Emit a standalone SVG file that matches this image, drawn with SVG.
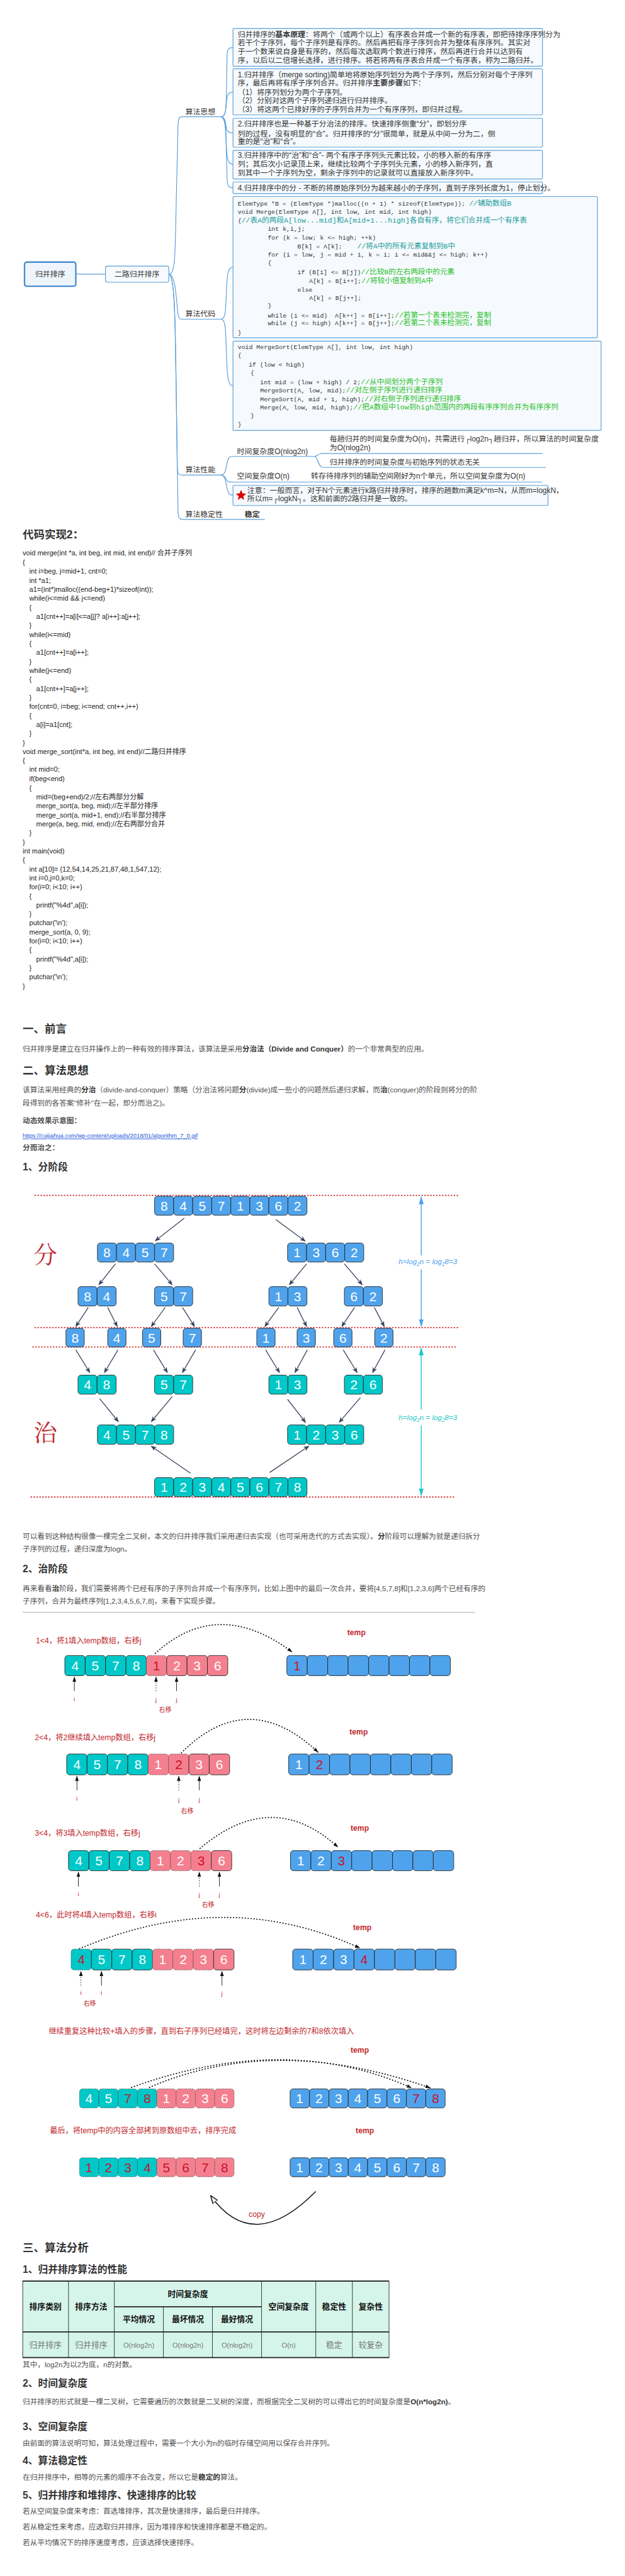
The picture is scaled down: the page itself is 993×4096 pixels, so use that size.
<svg xmlns="http://www.w3.org/2000/svg" width="993" height="4096" viewBox="0 0 993 4096">
<style>
.mm{font-family:"Liberation Sans","Noto Sans CJK SC",sans-serif;font-size:20.5px;fill:#333}
.cd{font-family:"Liberation Mono","Noto Sans CJK SC",monospace;font-size:17px;fill:#333;white-space:pre}
.c1{fill:#1a9a9a;font-size:20px}
.c2{fill:#1fbf1f;font-size:20px}
.box{fill:#f6fafe;stroke:#5b9fd8;stroke-width:2}
.ln{fill:none;stroke:#5b9fd8;stroke-width:2}
.src{font-family:"Liberation Sans","Noto Sans CJK SC",sans-serif;font-size:19px;fill:#222}
.bd{font-family:"Liberation Sans","Noto Sans CJK SC",sans-serif;font-size:20px;fill:#4f4f4f}
.h2{font-family:"Liberation Sans","Noto Sans CJK SC",sans-serif;font-size:30px;font-weight:bold;fill:#333}
.h3{font-family:"Liberation Sans","Noto Sans CJK SC",sans-serif;font-size:27px;font-weight:bold;fill:#333}
.b{font-weight:bold}
.bl{fill:#4fa3ec;stroke:#222;stroke-width:1.5}
.tl{fill:#00c8c8;stroke:#222;stroke-width:1.5}
.pk{fill:#f4808f;stroke:#222;stroke-width:1.5}
.dt{stroke-dasharray:2 3}
.dg{font-family:"Liberation Sans",sans-serif;font-size:36px;fill:#fff;text-anchor:middle}
.rd{fill:#c8142c}
.tr{stroke:#34405a;stroke-width:2.2;fill:none}
.rl{stroke:#d43a3a;stroke-width:3.5;stroke-dasharray:1 7;stroke-linecap:round}
.arc{fill:none;stroke:#111;stroke-width:3;stroke-dasharray:1 7;stroke-linecap:round}
.ptr{stroke:#111;stroke-width:1.5}
.lab{font-family:"Liberation Sans","Noto Sans CJK SC",sans-serif;font-size:21px;fill:#c0282d}
.sm{font-family:"Liberation Sans","Noto Sans CJK SC",sans-serif;font-size:17px;fill:#c0282d;text-anchor:middle}
.tmp{font-family:"Liberation Sans",sans-serif;font-size:21px;font-weight:bold;fill:#c0282d}
.tb{fill:#d5f5ea;stroke:#222;stroke-width:1.5}
.th{font-family:"Liberation Sans","Noto Sans CJK SC",sans-serif;font-size:22px;font-weight:bold;fill:#111;text-anchor:middle}
.td{font-family:"Liberation Sans","Noto Sans CJK SC",sans-serif;font-size:22px;fill:#777;text-anchor:middle}
</style>
<defs>
<marker id="ah" viewBox="0 0 10 10" refX="9" refY="5" markerWidth="16" markerHeight="16" markerUnits="userSpaceOnUse" orient="auto"><path d="M0,1 L10,5 L0,9 L3,5 z" fill="#34405a"/></marker>
<marker id="ak" viewBox="0 0 10 10" refX="9" refY="5" markerWidth="14" markerHeight="14" markerUnits="userSpaceOnUse" orient="auto"><path d="M0,1.5 L10,5 L0,8.5 z" fill="#111"/></marker>
<marker id="ab" viewBox="0 0 10 10" refX="9" refY="5" markerWidth="22" markerHeight="22" markerUnits="userSpaceOnUse" orient="auto"><path d="M0,2 L10,5 L0,8 z" fill="#4fa3ec"/></marker>
<marker id="at" viewBox="0 0 10 10" refX="9" refY="5" markerWidth="22" markerHeight="22" markerUnits="userSpaceOnUse" orient="auto"><path d="M0,2 L10,5 L0,8 z" fill="#1ec8c8"/></marker>
<marker id="ao" viewBox="0 0 10 10" refX="9" refY="5" markerWidth="22" markerHeight="22" markerUnits="userSpaceOnUse" orient="auto"><path d="M0,1.5 L10,5 L0,8.5 z" fill="#fff" stroke="#111" stroke-width="1.2"/></marker>
</defs>
<rect width="993" height="4096" fill="#fff"/>
<g transform="scale(0.582)">

<g id="connectors">
<path class="ln" d="M207,749 H288"/>
<path class="ln" d="M461,749 C478,749 478,700 480,600 L486,340 C487,325 489,319 496,319 H603"/>
<path class="ln" d="M461,749 C478,752 480,800 484,840 C486,866 488,872 496,872 H603"/>
<path class="ln" d="M461,749 C478,752 478,900 480,1000 L484,1280 C485,1294 488,1298 496,1298 H603"/>
<path class="ln" d="M461,749 C478,752 478,900 480,1000 L486,1400 C487,1415 490,1419 498,1419 H723"/>
<path class="ln" d="M603,319 C618,319 617,300 618,250 L620,150 C621,133 624,130 636,130"/>
<path class="ln" d="M603,319 C616,319 616,300 618,280 C620,256 624,252 636,252"/>
<path class="ln" d="M603,319 C616,319 616,340 618,350 C620,360 624,363 636,363"/>
<path class="ln" d="M603,319 C616,319 616,360 618,400 C620,440 624,449 636,449"/>
<path class="ln" d="M603,319 C618,319 617,360 618,420 L620,490 C621,508 624,513 636,513"/>
<path class="ln" d="M603,872 C616,872 616,850 618,800 C620,740 624,730 636,730"/>
<path class="ln" d="M603,872 C616,872 616,900 618,960 C620,1040 624,1054 636,1054"/>
<path class="ln" d="M603,1298 C616,1298 616,1280 620,1265 C624,1250 626,1247 634,1247 H859"/>
<path class="ln" d="M859,1247 C868,1247 866,1239 880,1239 H1480"/>
<path class="ln" d="M859,1247 C868,1247 868,1277 882,1277 H1490"/>
<path class="ln" d="M603,1298 C616,1298 616,1310 620,1314 C623,1317 626,1317 634,1317 H1480"/>
<path class="ln" d="M603,1298 C616,1298 616,1320 620,1335 C624,1350 626,1353 636,1353"/>
</g>

<g id="root"><rect x="67" y="716" width="140" height="66" rx="6" fill="#eef5fc" stroke="#4a8cd0" stroke-width="4"/><text class="mm" x="137" y="756" text-anchor="middle">归并排序</text></g>
<g id="n-erlu"><rect class="box" x="288" y="727" width="173" height="44" rx="5"/><text class="mm" x="374" y="756" text-anchor="middle">二路归并排序</text></g>
<g id="n-sixiang"><text class="mm" x="506" y="312">算法思想</text></g>
<g id="n-daima"><text class="mm" x="506" y="865">算法代码</text></g>
<g id="n-xingneng"><text class="mm" x="506" y="1291">算法性能</text></g>
<g id="n-wending"><text class="mm" x="506" y="1412">算法稳定性</text><text class="mm b" x="668" y="1412" fill="#e00">稳定</text></g>

<g id="t-box1"><rect class="box" x="636" y="78" width="845" height="103" rx="3"/>
<text class="mm" x="649" y="101">归并排序的<tspan class="b">基本原理</tspan>：将两个（或两个以上）有序表合并成一个新的有序表，即把待排序序列分为</text>
<text class="mm" x="649" y="124">若干个子序列，每个子序列是有序的。然后再把有序子序列合并为整体有序序列。其实对</text>
<text class="mm" x="649" y="148">于一个数来说自身是有序的，然后每次选取两个数进行排序，然后再进行合并以达到有</text>
<text class="mm" x="649" y="172">序，以后以二倍增长选择，进行排序。将若将两有序表合并成一个有序表，称为二路归并。</text></g>
<g id="t-box2"><rect class="box" x="636" y="188" width="845" height="126" rx="3"/>
<text class="mm" x="649" y="211">1.归并排序（merge sorting)简单地将原始序列划分为两个子序列，然后分别对每个子序列</text>
<text class="mm" x="649" y="234">序，最后再将有序子序列合并。归并排序<tspan class="b">主要步骤</tspan>如下：</text>
<text class="mm" x="649" y="259">（1）将序列划分为两个子序列。</text>
<text class="mm" x="649" y="282">（2）分别对这两个子序列递归进行归并排序。</text>
<text class="mm" x="649" y="305">（3）将这两个已排好序的子序列合并为一个有序序列，即归并过程。</text></g>
<g id="t-box3"><rect class="box" x="636" y="323" width="845" height="79" rx="3"/>
<text class="mm" x="649" y="346">2.归并排序也是一种基于分治法的排序。快速排序侧重“分”，即划分序</text>
<text class="mm" x="649" y="372">列的过程，没有明显的“合”。归并排序的“分”很简单，就是从中间一分为二，侧</text>
<text class="mm" x="649" y="394">重的是“治”和“合”。</text></g>
<g id="t-box4"><rect class="box" x="636" y="411" width="845" height="78" rx="3"/>
<text class="mm" x="649" y="432">3.归并排序中的“治”和“合”- 两个有序子序列头元素比较，小的移入新的有序序</text>
<text class="mm" x="649" y="455">列；其后次小记录顶上来，继续比较两个子序列头元素，小的移入新序列，直</text>
<text class="mm" x="649" y="479">到其中一个子序列为空，剩余子序列中的记录就可以直接放入新序列中。</text></g>
<g id="t-box5"><rect class="box" x="636" y="497" width="845" height="32" rx="3"/>
<text class="mm" x="649" y="520">4.归并排序中的分 - 不断的将原始序列分为越来越小的子序列，直到子序列长度为1，停止划分。</text></g>

<g id="code1"><rect class="box" x="636" y="537" width="995" height="386" rx="3"/>
<text class="cd" x="649" y="561">ElemType *B = (ElemType *)malloc((n + 1) * sizeof(ElemType)); <tspan class="c1">//辅助数组B</tspan></text>
<text class="cd" x="649" y="584">void Merge(ElemType A[], int low, int mid, int high)</text>
<text class="cd" x="649" y="608">{<tspan class="c1">//表A的两段A[low...mid]和A[mid+1...high]各自有序，将它们合并成一个有序表</tspan></text>
<text class="cd" x="731" y="631">int k,i,j;</text>
<text class="cd" x="731" y="654">for (k = low; k &lt;= high; ++k)</text>
<text class="cd" x="812" y="678">B[k] = A[k];    <tspan class="c1">//将A中的所有元素复制到B中</tspan></text>
<text class="cd" x="731" y="701">for (i = low, j = mid + 1, k = i; i &lt;= mid&amp;&amp;j &lt;= high; k++)</text>
<text class="cd" x="731" y="724">{</text>
<text class="cd" x="812" y="749">if (B[i] &lt;= B[j])<tspan class="c2">//比较B的左右两段中的元素</tspan></text>
<text class="cd" x="844" y="773">A[k] = B[i++];<tspan class="c2">//将较小值复制到A中</tspan></text>
<text class="cd" x="812" y="798">else</text>
<text class="cd" x="844" y="819">A[k] = B[j++];</text>
<text class="cd" x="731" y="841">}</text>
<text class="cd" x="731" y="868">while (i &lt;= mid)  A[k++] = B[i++];<tspan class="c2">//若第一个表未检测完，复制</tspan></text>
<text class="cd" x="731" y="889">while (j &lt;= high) A[k++] = B[j++];<tspan class="c2">//若第二个表未检测完，复制</tspan></text>
<text class="cd" x="649" y="914">}</text></g>
<g id="code2"><rect class="box" x="636" y="932" width="1005" height="244" rx="3"/>
<text class="cd" x="649" y="954">void MergeSort(ElemType A[], int low, int high)</text>
<text class="cd" x="649" y="976">{</text>
<text class="cd" x="679" y="1001">if (low &lt; high)</text>
<text class="cd" x="684" y="1024">{</text>
<text class="cd" x="710" y="1049">int mid = (low + high) / 2;<tspan class="c2">//从中间划分两个子序列</tspan></text>
<text class="cd" x="710" y="1073">MergeSort(A, low, mid);<tspan class="c2">//对左侧子序列进行递归排序</tspan></text>
<text class="cd" x="710" y="1096">MergeSort(A, mid + 1, high);<tspan class="c2">//对右侧子序列进行递归排序</tspan></text>
<text class="cd" x="710" y="1119">Merge(A, low, mid, high);<tspan class="c2">//把A数组中low到high范围内的两段有序序列合并为有序序列</tspan></text>
<text class="cd" x="684" y="1141">}</text>
<text class="cd" x="649" y="1165">}</text></g>

<g id="n-time"><text class="mm" x="647" y="1240">时间复杂度O(nlog2n)</text>
<text class="mm" x="900" y="1206">每趟归并的时间复杂度为O(n)，共需进行┌log2n┐趟归并，所以算法的时间复杂度</text>
<text class="mm" x="900" y="1230">为O(nlog2n)</text>
<text class="mm" x="900" y="1269">归并排序的时间复杂度与初始序列的状态无关</text></g>
<g id="n-space"><text class="mm" x="647" y="1307">空间复杂度O(n)</text><text class="mm" x="849" y="1307">转存待排序列的辅助空间刚好为n个单元，所以空间复杂度为O(n)</text></g>
<g id="n-note"><rect class="box" x="636" y="1326" width="860" height="55" rx="3"/>
<path d="M658,1338 L662,1348 L672,1349 L664,1356 L667,1366 L658,1360 L649,1366 L652,1356 L644,1349 L654,1348 z" fill="#d00"/>
<text class="mm" x="675" y="1347" fill="#e00">注意：一般而言，对于N个元素进行k路归并排序时，排序的趟数m满足k^m=N，从而m=logkN，</text>
<text class="mm" x="675" y="1370" fill="#e00">所以m=┌logkN┐。这和前面的2路归并是一致的。</text></g>

<g id="code-impl">
<text class="h2" x="62" y="1471">代码实现2：</text>
<g class="src">
<text x="62" y="1518">void merge(int *a, int beg, int mid, int end)// 合并子序列</text>
<text x="62" y="1543">{</text>
<text x="80" y="1567">int i=beg, j=mid+1, cnt=0;</text>
<text x="80" y="1592">int *a1;</text>
<text x="80" y="1617">a1=(int*)malloc((end-beg+1)*sizeof(int));</text>
<text x="80" y="1641">while(i&lt;=mid &amp;&amp; j&lt;=end)</text>
<text x="80" y="1666">{</text>
<text x="99" y="1691">a1[cnt++]=a[i]&lt;=a[j]? a[i++]:a[j++];</text>
<text x="80" y="1715">}</text>
<text x="80" y="1740">while(i&lt;=mid)</text>
<text x="80" y="1764">{</text>
<text x="99" y="1789">a1[cnt++]=a[i++];</text>
<text x="80" y="1814">}</text>
<text x="80" y="1838">while(j&lt;=end)</text>
<text x="80" y="1863">{</text>
<text x="99" y="1888">a1[cnt++]=a[j++];</text>
<text x="80" y="1912">}</text>
<text x="80" y="1937">for(cnt=0, i=beg; i&lt;=end; cnt++,i++)</text>
<text x="80" y="1962">{</text>
<text x="99" y="1986">a[i]=a1[cnt];</text>
<text x="80" y="2011">}</text>
<text x="62" y="2036">}</text>
<text x="62" y="2060">void merge_sort(int*a, int beg, int end)//二路归并排序</text>
<text x="62" y="2085">{</text>
<text x="80" y="2109">int mid=0;</text>
<text x="80" y="2134">if(beg&lt;end)</text>
<text x="80" y="2159">{</text>
<text x="99" y="2183">mid=(beg+end)/2;//左右两部分分解</text>
<text x="99" y="2208">merge_sort(a, beg, mid);//左半部分排序</text>
<text x="99" y="2233">merge_sort(a, mid+1, end);//右半部分排序</text>
<text x="99" y="2257">merge(a, beg, mid, end);//左右两部分合并</text>
<text x="80" y="2282">}</text>
<text x="62" y="2307">}</text>
<text x="62" y="2331">int main(void)</text>
<text x="62" y="2356">{</text>
<text x="80" y="2381">int a[10]= {12,54,14,25,21,87,48,1,547,12};</text>
<text x="80" y="2405">int i=0,j=0,k=0;</text>
<text x="80" y="2430">for(i=0; i&lt;10; i++)</text>
<text x="80" y="2455">{</text>
<text x="99" y="2479">printf("%4d",a[i]);</text>
<text x="80" y="2504">}</text>
<text x="80" y="2528">putchar('\n');</text>
<text x="80" y="2553">merge_sort(a, 0, 9);</text>
<text x="80" y="2578">for(i=0; i&lt;10; i++)</text>
<text x="80" y="2602">{</text>
<text x="99" y="2627">printf("%4d",a[i]);</text>
<text x="80" y="2652">}</text>
<text x="80" y="2676">putchar('\n');</text>
<text x="62" y="2701">}</text>
</g></g>

<g id="article">
<text class="h2" x="62" y="2822">一、前言</text>
<text class="bd" x="62" y="2872">归并排序是建立在归并操作上的一种有效的排序算法，该算法是采用<tspan class="b" fill="#333">分治法（Divide and Conquer）</tspan>的一个非常典型的应用。</text>
<text class="h2" x="62" y="2935">二、算法思想</text>
<text class="bd" x="62" y="2985">该算法采用经典的<tspan class="b" fill="#333">分治</tspan>（divide-and-conquer）策略（分治法将问题<tspan class="b" fill="#333">分</tspan>(divide)成一些小的问题然后递归求解，而<tspan class="b" fill="#333">治</tspan>(conquer)的阶段则将分的阶</text>
<text class="bd" x="62" y="3021">段得到的各答案"修补"在一起，即分而治之)。</text>
<text class="bd b" x="62" y="3069" fill="#333" font-size="19">动态效果示意图：</text>
<text x="62" y="3109" font-family="Liberation Sans,sans-serif" font-size="16" fill="#1a55d8" text-decoration="underline">https://cuijiahua.com/wp-content/uploads/2018/01/algorithm_7_0.gif</text>
<text class="bd b" x="62" y="3142" fill="#333" font-size="19">分而治之：</text>
<text class="h3" x="62" y="3198">1、分阶段</text>
</g>

<g id="tree">
<line class="rl" x1="96" y1="3266" x2="1250" y2="3266"/>
<line class="rl" x1="96" y1="3627" x2="1250" y2="3627"/>
<line class="rl" x1="90" y1="3680" x2="1243" y2="3680"/>
<line class="rl" x1="85" y1="4090" x2="1240" y2="4090"/>
<text x="92" y="3452" font-family="Noto Serif CJK SC,Noto Sans CJK SC,serif" font-size="64" fill="#c0282d">分</text>
<text x="92" y="3938" font-family="Noto Serif CJK SC,Noto Sans CJK SC,serif" font-size="64" fill="#c0282d">治</text>
<g id="r1">
<rect class="bl" x="422" y="3268" width="52" height="52" rx="8"/><rect class="bl" x="474" y="3268" width="52" height="52" rx="8"/><rect class="bl" x="526" y="3268" width="52" height="52" rx="8"/><rect class="bl" x="578" y="3268" width="52" height="52" rx="8"/><rect class="bl" x="630" y="3268" width="52" height="52" rx="8"/><rect class="bl" x="682" y="3268" width="52" height="52" rx="8"/><rect class="bl" x="734" y="3268" width="52" height="52" rx="8"/><rect class="bl" x="786" y="3268" width="52" height="52" rx="8"/>
<text class="dg" y="3307"><tspan x="448">8</tspan><tspan x="500">4</tspan><tspan x="552">5</tspan><tspan x="604">7</tspan><tspan x="656">1</tspan><tspan x="708">3</tspan><tspan x="760">6</tspan><tspan x="812">2</tspan></text></g>
<g id="r2">
<rect class="bl" x="266" y="3396" width="52" height="52" rx="8"/><rect class="bl" x="318" y="3396" width="52" height="52" rx="8"/><rect class="bl" x="370" y="3396" width="52" height="52" rx="8"/><rect class="bl" x="422" y="3396" width="52" height="52" rx="8"/>
<rect class="bl" x="785" y="3396" width="52" height="52" rx="8"/><rect class="bl" x="837" y="3396" width="52" height="52" rx="8"/><rect class="bl" x="889" y="3396" width="52" height="52" rx="8"/><rect class="bl" x="941" y="3396" width="52" height="52" rx="8"/>
<text class="dg" y="3435"><tspan x="292">8</tspan><tspan x="344">4</tspan><tspan x="396">5</tspan><tspan x="448">7</tspan><tspan x="811">1</tspan><tspan x="863">3</tspan><tspan x="915">6</tspan><tspan x="967">2</tspan></text></g>
<g id="r3">
<rect class="bl" x="213" y="3515" width="52" height="53" rx="8"/><rect class="bl" x="265" y="3515" width="52" height="53" rx="8"/>
<rect class="bl" x="422" y="3515" width="52" height="53" rx="8"/><rect class="bl" x="474" y="3515" width="52" height="53" rx="8"/>
<rect class="bl" x="734" y="3515" width="52" height="53" rx="8"/><rect class="bl" x="786" y="3515" width="52" height="53" rx="8"/>
<rect class="bl" x="940" y="3515" width="52" height="53" rx="8"/><rect class="bl" x="992" y="3515" width="52" height="53" rx="8"/>
<text class="dg" y="3555"><tspan x="239">8</tspan><tspan x="291">4</tspan><tspan x="448">5</tspan><tspan x="500">7</tspan><tspan x="760">1</tspan><tspan x="812">3</tspan><tspan x="966">6</tspan><tspan x="1018">2</tspan></text></g>
<g id="r4">
<rect class="bl" x="180" y="3629" width="50" height="51" rx="8"/><rect class="bl" x="294" y="3629" width="50" height="51" rx="8"/><rect class="bl" x="389" y="3629" width="50" height="51" rx="8"/><rect class="bl" x="500" y="3629" width="50" height="51" rx="8"/><rect class="bl" x="701" y="3629" width="50" height="51" rx="8"/><rect class="bl" x="811" y="3629" width="50" height="51" rx="8"/><rect class="bl" x="911" y="3629" width="50" height="51" rx="8"/><rect class="bl" x="1023" y="3629" width="50" height="51" rx="8"/>
<text class="dg" y="3668"><tspan x="205">8</tspan><tspan x="319">4</tspan><tspan x="414">5</tspan><tspan x="525">7</tspan><tspan x="726">1</tspan><tspan x="836">3</tspan><tspan x="936">6</tspan><tspan x="1048">2</tspan></text></g>
<g id="r5">
<rect class="tl" x="213" y="3757" width="52" height="52" rx="8"/><rect class="tl" x="265" y="3757" width="52" height="52" rx="8"/>
<rect class="tl" x="422" y="3757" width="52" height="52" rx="8"/><rect class="tl" x="474" y="3757" width="52" height="52" rx="8"/>
<rect class="tl" x="734" y="3757" width="52" height="52" rx="8"/><rect class="tl" x="786" y="3757" width="52" height="52" rx="8"/>
<rect class="tl" x="940" y="3757" width="52" height="52" rx="8"/><rect class="tl" x="992" y="3757" width="52" height="52" rx="8"/>
<text class="dg" y="3796"><tspan x="239">4</tspan><tspan x="291">8</tspan><tspan x="448">5</tspan><tspan x="500">7</tspan><tspan x="760">1</tspan><tspan x="812">3</tspan><tspan x="966">2</tspan><tspan x="1018">6</tspan></text></g>
<g id="r6">
<rect class="tl" x="266" y="3893" width="52" height="53" rx="8"/><rect class="tl" x="318" y="3893" width="52" height="53" rx="8"/><rect class="tl" x="370" y="3893" width="52" height="53" rx="8"/><rect class="tl" x="422" y="3893" width="52" height="53" rx="8"/>
<rect class="tl" x="785" y="3893" width="52" height="53" rx="8"/><rect class="tl" x="837" y="3893" width="52" height="53" rx="8"/><rect class="tl" x="889" y="3893" width="52" height="53" rx="8"/><rect class="tl" x="941" y="3893" width="52" height="53" rx="8"/>
<text class="dg" y="3933"><tspan x="292">4</tspan><tspan x="344">5</tspan><tspan x="396">7</tspan><tspan x="448">8</tspan><tspan x="811">1</tspan><tspan x="863">2</tspan><tspan x="915">3</tspan><tspan x="967">6</tspan></text></g>
<g id="r7">
<rect class="tl" x="422" y="4037" width="52" height="52" rx="8"/><rect class="tl" x="474" y="4037" width="52" height="52" rx="8"/><rect class="tl" x="526" y="4037" width="52" height="52" rx="8"/><rect class="tl" x="578" y="4037" width="52" height="52" rx="8"/><rect class="tl" x="630" y="4037" width="52" height="52" rx="8"/><rect class="tl" x="682" y="4037" width="52" height="52" rx="8"/><rect class="tl" x="734" y="4037" width="52" height="52" rx="8"/><rect class="tl" x="786" y="4037" width="52" height="52" rx="8"/>
<text class="dg" y="4076"><tspan x="448">1</tspan><tspan x="500">2</tspan><tspan x="552">3</tspan><tspan x="604">4</tspan><tspan x="656">5</tspan><tspan x="708">6</tspan><tspan x="760">7</tspan><tspan x="812">8</tspan></text></g>
<g id="tree-arrows">
<line class="tr" x1="503" y1="3328" x2="424" y2="3390" marker-end="url(#ah)"/>
<line class="tr" x1="753" y1="3332" x2="833" y2="3391" marker-end="url(#ah)"/>
<line class="tr" x1="315" y1="3453" x2="270" y2="3510" marker-end="url(#ah)"/>
<line class="tr" x1="422" y1="3453" x2="470" y2="3510" marker-end="url(#ah)"/>
<line class="tr" x1="837" y1="3453" x2="790" y2="3510" marker-end="url(#ah)"/>
<line class="tr" x1="940" y1="3453" x2="989" y2="3510" marker-end="url(#ah)"/>
<line class="tr" x1="241" y1="3572" x2="207" y2="3624" marker-end="url(#ah)"/>
<line class="tr" x1="294" y1="3572" x2="320" y2="3624" marker-end="url(#ah)"/>
<line class="tr" x1="451" y1="3572" x2="413" y2="3624" marker-end="url(#ah)"/>
<line class="tr" x1="498" y1="3572" x2="531" y2="3624" marker-end="url(#ah)"/>
<line class="tr" x1="761" y1="3572" x2="723" y2="3624" marker-end="url(#ah)"/>
<line class="tr" x1="811" y1="3572" x2="837" y2="3624" marker-end="url(#ah)"/>
<line class="tr" x1="968" y1="3572" x2="933" y2="3624" marker-end="url(#ah)"/>
<line class="tr" x1="1022" y1="3572" x2="1049" y2="3624" marker-end="url(#ah)"/>
<line class="tr" x1="207" y1="3688" x2="245" y2="3750" marker-end="url(#ah)"/>
<line class="tr" x1="322" y1="3688" x2="285" y2="3750" marker-end="url(#ah)"/>
<line class="tr" x1="419" y1="3688" x2="457" y2="3750" marker-end="url(#ah)"/>
<line class="tr" x1="534" y1="3688" x2="498" y2="3750" marker-end="url(#ah)"/>
<line class="tr" x1="725" y1="3688" x2="763" y2="3750" marker-end="url(#ah)"/>
<line class="tr" x1="839" y1="3688" x2="805" y2="3750" marker-end="url(#ah)"/>
<line class="tr" x1="937" y1="3688" x2="975" y2="3750" marker-end="url(#ah)"/>
<line class="tr" x1="1051" y1="3688" x2="1017" y2="3750" marker-end="url(#ah)"/>
<line class="tr" x1="272" y1="3821" x2="323" y2="3884" marker-end="url(#ah)"/>
<line class="tr" x1="470" y1="3816" x2="413" y2="3884" marker-end="url(#ah)"/>
<line class="tr" x1="785" y1="3823" x2="834" y2="3886" marker-end="url(#ah)"/>
<line class="tr" x1="984" y1="3818" x2="926" y2="3886" marker-end="url(#ah)"/>
<line class="tr" x1="520" y1="4025" x2="413" y2="3951" marker-end="url(#ah)"/>
<line class="tr" x1="736" y1="4023" x2="843" y2="3951" marker-end="url(#ah)"/>
</g>
<g id="height-arrows">
<line x1="1150" y1="3430" x2="1150" y2="3270" stroke="#4fa3ec" stroke-width="2.5" marker-end="url(#ab)"/>
<line x1="1150" y1="3468" x2="1150" y2="3624" stroke="#4fa3ec" stroke-width="2.5" marker-end="url(#ab)"/>
<text x="1168" y="3453" font-family="Liberation Sans,sans-serif" font-size="20" font-style="italic" fill="#4fa3ec" text-anchor="middle">h=log<tspan font-size="14" dy="5">2</tspan><tspan dy="-5">n = log</tspan><tspan font-size="14" dy="5">2</tspan><tspan dy="-5">8=3</tspan></text>
<line x1="1150" y1="3851" x2="1150" y2="3683" stroke="#1ec8c8" stroke-width="2.5" marker-end="url(#at)"/>
<line x1="1150" y1="3895" x2="1150" y2="4086" stroke="#1ec8c8" stroke-width="2.5" marker-end="url(#at)"/>
<text x="1168" y="3880" font-family="Liberation Sans,sans-serif" font-size="20" font-style="italic" fill="#1ec8c8" text-anchor="middle">h=log<tspan font-size="14" dy="5">2</tspan><tspan dy="-5">n = log</tspan><tspan font-size="14" dy="5">2</tspan><tspan dy="-5">8=3</tspan></text>
</g>
</g>

<g id="article2">
<text class="bd" x="62" y="4204">可以看到这种结构很像一棵完全二叉树，本文的归并排序我们采用递归去实现（也可采用迭代的方式去实现）。<tspan class="b" fill="#333">分</tspan>阶段可以理解为就是递归拆分</text>
<text class="bd" x="62" y="4239">子序列的过程，递归深度为logn。</text>
<text class="h3" x="62" y="4296">2、治阶段</text>
<text class="bd" x="62" y="4347">再来看看<tspan class="b" fill="#333">治</tspan>阶段，我们需要将两个已经有序的子序列合并成一个有序序列，比如上图中的最后一次合并，要将[4,5,7,8]和[1,2,3,6]两个已经有序的</text>
<text class="bd" x="62" y="4382">子序列，合并为最终序列[1,2,3,4,5,6,7,8]，来看下实现步骤。</text>
<line x1="62" y1="4405" x2="1297" y2="4405" stroke="#aaa" stroke-width="2"/>
</g>

<g id="step1">
<text class="lab" x="98" y="4490">1&lt;4，将1填入temp数组，右移j</text>
<text class="tmp" x="948" y="4468">temp</text>
<path class="arc" d="M424,4517 Q594,4362 797,4513" marker-end="url(#ak)"/>
<rect class="tl" x="177" y="4523" width="55.6" height="55" rx="8"/><rect class="tl" x="232.6" y="4523" width="55.6" height="55" rx="8"/><rect class="tl" x="288.2" y="4523" width="55.6" height="55" rx="8"/><rect class="tl" x="343.8" y="4523" width="55.6" height="55" rx="8"/>
<rect class="pk dt" x="399.4" y="4523" width="55.6" height="55" rx="8"/><rect class="pk" x="455" y="4523" width="55.6" height="55" rx="8"/><rect class="pk" x="510.6" y="4523" width="55.6" height="55" rx="8"/><rect class="pk" x="566.2" y="4523" width="55.6" height="55" rx="8"/>
<text class="dg" y="4563"><tspan x="205">4</tspan><tspan x="260">5</tspan><tspan x="316">7</tspan><tspan x="372">8</tspan><tspan x="427" class="rd">1</tspan><tspan x="483">2</tspan><tspan x="538">3</tspan><tspan x="594">6</tspan></text>
<rect class="bl" x="783" y="4523" width="55.8" height="55" rx="8"/><rect class="bl" x="838.8" y="4523" width="55.8" height="55" rx="8"/><rect class="bl" x="894.6" y="4523" width="55.8" height="55" rx="8"/><rect class="bl" x="950.4" y="4523" width="55.8" height="55" rx="8"/><rect class="bl" x="1006.2" y="4523" width="55.8" height="55" rx="8"/><rect class="bl" x="1062" y="4523" width="55.8" height="55" rx="8"/><rect class="bl" x="1117.8" y="4523" width="55.8" height="55" rx="8"/><rect class="bl" x="1173.6" y="4523" width="55.8" height="55" rx="8"/>
<text class="dg rd" x="811" y="4563">1</text>
<line class="ptr" x1="203" y1="4620" x2="203" y2="4582" marker-end="url(#ak)"/>
<line class="ptr" x1="426" y1="4620" x2="426" y2="4582" stroke-dasharray="3 4" marker-end="url(#ak)"/>
<line class="ptr" x1="482" y1="4620" x2="482" y2="4582" marker-end="url(#ak)"/>
<text class="sm" font-size="21"><tspan x="203" y="4647">i</tspan><tspan x="426" y="4650">j</tspan><tspan x="482" y="4650">j</tspan></text>
<text class="sm" x="451" y="4677">右移</text>
</g>
<g id="step2">
<text class="lab" x="95" y="4755">2&lt;4，将2继续填入temp数组，右移j</text>
<text class="tmp" x="954" y="4739">temp</text>
<path class="arc" d="M495,4789 Q677,4607 868,4787" marker-end="url(#ak)"/>
<rect class="tl" x="182" y="4792" width="55.6" height="57" rx="8"/><rect class="tl" x="237.6" y="4792" width="55.6" height="57" rx="8"/><rect class="tl" x="293.2" y="4792" width="55.6" height="57" rx="8"/><rect class="tl" x="348.8" y="4792" width="55.6" height="57" rx="8"/>
<rect class="pk dt" x="404.4" y="4792" width="55.6" height="57" rx="8"/><rect class="pk dt" x="460" y="4792" width="55.6" height="57" rx="8"/><rect class="pk" x="515.6" y="4792" width="55.6" height="57" rx="8"/><rect class="pk" x="571.2" y="4792" width="55.6" height="57" rx="8"/>
<text class="dg" y="4833"><tspan x="210">4</tspan><tspan x="265">5</tspan><tspan x="321">7</tspan><tspan x="377">8</tspan><tspan x="432">1</tspan><tspan x="488" class="rd">2</tspan><tspan x="543">3</tspan><tspan x="599">6</tspan></text>
<rect class="bl" x="788" y="4792" width="55.8" height="57" rx="8"/><rect class="bl" x="843.8" y="4792" width="55.8" height="57" rx="8"/><rect class="bl" x="899.6" y="4792" width="55.8" height="57" rx="8"/><rect class="bl" x="955.4" y="4792" width="55.8" height="57" rx="8"/><rect class="bl" x="1011.2" y="4792" width="55.8" height="57" rx="8"/><rect class="bl" x="1067" y="4792" width="55.8" height="57" rx="8"/><rect class="bl" x="1122.8" y="4792" width="55.8" height="57" rx="8"/><rect class="bl" x="1178.6" y="4792" width="55.8" height="57" rx="8"/>
<text class="dg" y="4833"><tspan x="816">1</tspan><tspan x="872" class="rd">2</tspan></text>
<line class="ptr" x1="210" y1="4891" x2="210" y2="4853" marker-end="url(#ak)"/>
<line class="ptr" x1="488" y1="4891" x2="488" y2="4853" stroke-dasharray="3 4" marker-end="url(#ak)"/>
<line class="ptr" x1="544" y1="4891" x2="544" y2="4853" marker-end="url(#ak)"/>
<text class="sm" font-size="21"><tspan x="210" y="4920">i</tspan><tspan x="488" y="4922">j</tspan><tspan x="544" y="4922">j</tspan></text>
<text class="sm" x="511" y="4953">右移</text>
</g>
<g id="step3">
<text class="lab" x="95" y="5016">3&lt;4，将3填入temp数组，右移j</text>
<text class="tmp" x="957" y="5001">temp</text>
<path class="arc" d="M546,5050 Q743,4883 922,5046" marker-end="url(#ak)"/>
<rect class="tl" x="187" y="5056" width="55.7" height="55" rx="8"/><rect class="tl" x="242.7" y="5056" width="55.7" height="55" rx="8"/><rect class="tl" x="298.4" y="5056" width="55.7" height="55" rx="8"/><rect class="tl" x="354.1" y="5056" width="55.7" height="55" rx="8"/>
<rect class="pk dt" x="409.8" y="5056" width="55.7" height="55" rx="8"/><rect class="pk dt" x="465.5" y="5056" width="55.7" height="55" rx="8"/><rect class="pk dt" x="521.2" y="5056" width="55.7" height="55" rx="8"/><rect class="pk" x="576.9" y="5056" width="55.7" height="55" rx="8"/>
<text class="dg" y="5096"><tspan x="215">4</tspan><tspan x="270">5</tspan><tspan x="326">7</tspan><tspan x="382">8</tspan><tspan x="438">1</tspan><tspan x="493">2</tspan><tspan x="549" class="rd">3</tspan><tspan x="605">6</tspan></text>
<rect class="bl" x="793" y="5056" width="55.7" height="55" rx="8"/><rect class="bl" x="848.7" y="5056" width="55.7" height="55" rx="8"/><rect class="bl" x="904.4" y="5056" width="55.7" height="55" rx="8"/><rect class="bl" x="960.1" y="5056" width="55.7" height="55" rx="8"/><rect class="bl" x="1015.8" y="5056" width="55.7" height="55" rx="8"/><rect class="bl" x="1071.5" y="5056" width="55.7" height="55" rx="8"/><rect class="bl" x="1127.2" y="5056" width="55.7" height="55" rx="8"/><rect class="bl" x="1182.9" y="5056" width="55.7" height="55" rx="8"/>
<text class="dg" y="5096"><tspan x="821">1</tspan><tspan x="876">2</tspan><tspan x="932" class="rd">3</tspan></text>
<line class="ptr" x1="214" y1="5154" x2="214" y2="5115" marker-end="url(#ak)"/>
<line class="ptr" x1="544" y1="5154" x2="544" y2="5115" stroke-dasharray="3 4" marker-end="url(#ak)"/>
<line class="ptr" x1="599" y1="5154" x2="599" y2="5115" marker-end="url(#ak)"/>
<text class="sm" font-size="21"><tspan x="214" y="5180">i</tspan><tspan x="544" y="5182">j</tspan><tspan x="599" y="5182">j</tspan></text>
<text class="sm" x="568" y="5210">右移</text>
</g>
<g id="step4">
<text class="lab" x="98" y="5239">4&lt;6，此时将4填入temp数组，右移i</text>
<text class="tmp" x="964" y="5273">temp</text>
<path class="arc" d="M217,5324 Q617,5154 982,5322" marker-end="url(#ak)"/>
<rect class="tl dt" x="194" y="5325" width="55.6" height="57" rx="8"/><rect class="tl" x="249.6" y="5325" width="55.6" height="57" rx="8"/><rect class="tl" x="305.2" y="5325" width="55.6" height="57" rx="8"/><rect class="tl" x="360.8" y="5325" width="55.6" height="57" rx="8"/>
<rect class="pk dt" x="416.4" y="5325" width="55.6" height="57" rx="8"/><rect class="pk dt" x="472" y="5325" width="55.6" height="57" rx="8"/><rect class="pk dt" x="527.6" y="5325" width="55.6" height="57" rx="8"/><rect class="pk" x="583.2" y="5325" width="55.6" height="57" rx="8"/>
<text class="dg" y="5366"><tspan x="222" class="rd">4</tspan><tspan x="277">5</tspan><tspan x="333">7</tspan><tspan x="389">8</tspan><tspan x="444">1</tspan><tspan x="500">2</tspan><tspan x="555">3</tspan><tspan x="611">6</tspan></text>
<rect class="bl" x="799" y="5325" width="55.8" height="57" rx="8"/><rect class="bl" x="854.8" y="5325" width="55.8" height="57" rx="8"/><rect class="bl" x="910.6" y="5325" width="55.8" height="57" rx="8"/><rect class="bl" x="966.4" y="5325" width="55.8" height="57" rx="8"/><rect class="bl" x="1022.2" y="5325" width="55.8" height="57" rx="8"/><rect class="bl" x="1078" y="5325" width="55.8" height="57" rx="8"/><rect class="bl" x="1133.8" y="5325" width="55.8" height="57" rx="8"/><rect class="bl" x="1189.6" y="5325" width="55.8" height="57" rx="8"/>
<text class="dg" y="5366"><tspan x="827">1</tspan><tspan x="883">2</tspan><tspan x="938">3</tspan><tspan x="994" class="rd">4</tspan></text>
<line class="ptr" x1="221" y1="5425" x2="221" y2="5386" stroke-dasharray="3 4" marker-end="url(#ak)"/>
<line class="ptr" x1="277" y1="5425" x2="277" y2="5386" marker-end="url(#ak)"/>
<line class="ptr" x1="606" y1="5425" x2="606" y2="5386" marker-end="url(#ak)"/>
<text class="sm" font-size="21"><tspan x="221" y="5450">i</tspan><tspan x="277" y="5450">i</tspan><tspan x="606" y="5452">j</tspan></text>
<text class="sm" x="245" y="5480">右移</text>
</g>
<g id="step5">
<text class="lab" x="133" y="5556">继续重复这种比较+填入的步骤，直到右子序列已经填完，这时将左边剩余的7和8依次填入</text>
<text class="tmp" x="957" y="5608">temp</text>
<path class="arc" d="M359,5703 Q780,5551 1123,5704" marker-end="url(#ak)"/>
<path class="arc" d="M408,5703 Q748,5555 1174,5704" marker-end="url(#ak)"/>
<rect class="tl dt" x="217" y="5707" width="52.75" height="52" rx="8"/><rect class="tl dt" x="269.75" y="5707" width="52.75" height="52" rx="8"/><rect class="tl dt" x="322.5" y="5707" width="52.75" height="52" rx="8"/><rect class="tl dt" x="375.25" y="5707" width="52.75" height="52" rx="8"/>
<rect class="pk dt" x="428" y="5707" width="52.75" height="52" rx="8"/><rect class="pk dt" x="480.75" y="5707" width="52.75" height="52" rx="8"/><rect class="pk dt" x="533.5" y="5707" width="52.75" height="52" rx="8"/><rect class="pk dt" x="586.25" y="5707" width="52.75" height="52" rx="8"/>
<text class="dg" y="5746"><tspan x="243">4</tspan><tspan x="296">5</tspan><tspan x="349" class="rd">7</tspan><tspan x="402" class="rd">8</tspan><tspan x="454">1</tspan><tspan x="507">2</tspan><tspan x="560">3</tspan><tspan x="613">6</tspan></text>
<rect class="bl" x="792" y="5707" width="52.9" height="52" rx="8"/><rect class="bl" x="844.9" y="5707" width="52.9" height="52" rx="8"/><rect class="bl" x="897.8" y="5707" width="52.9" height="52" rx="8"/><rect class="bl" x="950.7" y="5707" width="52.9" height="52" rx="8"/><rect class="bl" x="1003.6" y="5707" width="52.9" height="52" rx="8"/><rect class="bl" x="1056.5" y="5707" width="52.9" height="52" rx="8"/><rect class="bl" x="1109.4" y="5707" width="52.9" height="52" rx="8"/><rect class="bl" x="1162.3" y="5707" width="52.9" height="52" rx="8"/>
<text class="dg" y="5746"><tspan x="818">1</tspan><tspan x="871">2</tspan><tspan x="924">3</tspan><tspan x="977">4</tspan><tspan x="1030">5</tspan><tspan x="1083">6</tspan><tspan x="1136" class="rd">7</tspan><tspan x="1189" class="rd">8</tspan></text>
</g>
<g id="step6">
<text class="lab" x="136" y="5829">最后，将temp中的内容全部拷到原数组中去，排序完成</text>
<text class="tmp" x="971" y="5829">temp</text>
<rect class="tl dt" x="217" y="5895" width="52.75" height="52" rx="8"/><rect class="tl dt" x="269.75" y="5895" width="52.75" height="52" rx="8"/><rect class="tl dt" x="322.5" y="5895" width="52.75" height="52" rx="8"/><rect class="tl dt" x="375.25" y="5895" width="52.75" height="52" rx="8"/>
<rect class="pk dt" x="428" y="5895" width="52.75" height="52" rx="8"/><rect class="pk dt" x="480.75" y="5895" width="52.75" height="52" rx="8"/><rect class="pk dt" x="533.5" y="5895" width="52.75" height="52" rx="8"/><rect class="pk dt" x="586.25" y="5895" width="52.75" height="52" rx="8"/>
<text class="dg rd" y="5934"><tspan x="243">1</tspan><tspan x="296">2</tspan><tspan x="349">3</tspan><tspan x="402">4</tspan><tspan x="454">5</tspan><tspan x="507">6</tspan><tspan x="560">7</tspan><tspan x="613">8</tspan></text>
<rect class="bl" x="792" y="5895" width="52.9" height="52" rx="8"/><rect class="bl" x="844.9" y="5895" width="52.9" height="52" rx="8"/><rect class="bl" x="897.8" y="5895" width="52.9" height="52" rx="8"/><rect class="bl" x="950.7" y="5895" width="52.9" height="52" rx="8"/><rect class="bl" x="1003.6" y="5895" width="52.9" height="52" rx="8"/><rect class="bl" x="1056.5" y="5895" width="52.9" height="52" rx="8"/><rect class="bl" x="1109.4" y="5895" width="52.9" height="52" rx="8"/><rect class="bl" x="1162.3" y="5895" width="52.9" height="52" rx="8"/>
<text class="dg" y="5934"><tspan x="818">1</tspan><tspan x="871">2</tspan><tspan x="924">3</tspan><tspan x="977">4</tspan><tspan x="1030">5</tspan><tspan x="1083">6</tspan><tspan x="1136">7</tspan><tspan x="1189">8</tspan></text>
<path d="M862,5987 Q692,6160 576,6000" fill="none" stroke="#111" stroke-width="2.5" marker-end="url(#ao)"/>
<text class="lab" x="701" y="6056" text-anchor="middle" font-size="22">copy</text>
</g>

<g id="analysis">
<text class="h2" x="62" y="6152">三、算法分析</text>
<text class="h3" x="62" y="6209">1、归并排序算法的性能</text>
<g id="table">
<rect class="tb" x="62" y="6232" width="1000" height="209"/>
<g stroke="#222" stroke-width="1.5">
<line x1="187" y1="6232" x2="187" y2="6441"/><line x1="312" y1="6232" x2="312" y2="6441"/><line x1="714" y1="6232" x2="714" y2="6441"/><line x1="862" y1="6232" x2="862" y2="6441"/><line x1="962" y1="6232" x2="962" y2="6441"/>
<line x1="446" y1="6302" x2="446" y2="6441"/><line x1="580" y1="6302" x2="580" y2="6441"/>
<line x1="312" y1="6302" x2="714" y2="6302" stroke-width="3"/>
</g>
<g stroke="#222" stroke-width="3"><line x1="62" y1="6232" x2="1062" y2="6232"/><line x1="62" y1="6371" x2="1062" y2="6371"/><line x1="62" y1="6441" x2="1062" y2="6441"/></g>
<text class="th" x="513" y="6275">时间复杂度</text>
<text class="th" y="6310"><tspan x="124">排序类别</tspan><tspan x="249">排序方法</tspan><tspan x="788">空间复杂度</tspan><tspan x="912">稳定性</tspan><tspan x="1012">复杂性</tspan></text>
<text class="th" y="6344"><tspan x="379">平均情况</tspan><tspan x="513">最坏情况</tspan><tspan x="647">最好情况</tspan></text>
<text class="td" y="6414"><tspan x="124">归并排序</tspan><tspan x="249">归并排序</tspan><tspan x="379" font-size="19">O(nlog2n)</tspan><tspan x="513" font-size="19">O(nlog2n)</tspan><tspan x="647" font-size="19">O(nlog2n)</tspan><tspan x="788" font-size="19">O(n)</tspan><tspan x="912">稳定</tspan><tspan x="1012">较复杂</tspan></text>
</g>
<text class="bd" x="62" y="6467">其中，log2n为以2为底，n的对数。</text>
<text class="h3" x="62" y="6521">2、时间复杂度</text>
<text class="bd" x="62" y="6569">归并排序的形式就是一棵二叉树，它需要遍历的次数就是二叉树的深度，而根据完全二叉树的可以得出它的时间复杂度是<tspan class="b" fill="#333">O(n*log2n)</tspan>。</text>
<text class="h3" x="62" y="6640">3、空间复杂度</text>
<text class="bd" x="62" y="6682">由前面的算法说明可知，算法处理过程中，需要一个大小为n的临时存储空间用以保存合并序列。</text>
<text class="h3" x="62" y="6732">4、算法稳定性</text>
<text class="bd" x="62" y="6775">在归并排序中，相等的元素的顺序不会改变，所以它是<tspan class="b" fill="#333">稳定的</tspan>算法。</text>
<text class="h3" x="62" y="6826">5、归并排序和堆排序、快速排序的比较</text>
<text class="bd" x="62" y="6867">若从空间复杂度来考虑：首选堆排序，其次是快速排序，最后是归并排序。</text>
<text class="bd" x="62" y="6911">若从稳定性来考虑，应选取归并排序，因为堆排序和快速排序都是不稳定的。</text>
<text class="bd" x="62" y="6954">若从平均情况下的排序速度考虑，应该选择快速排序。</text>
</g>
</g>
</svg>
